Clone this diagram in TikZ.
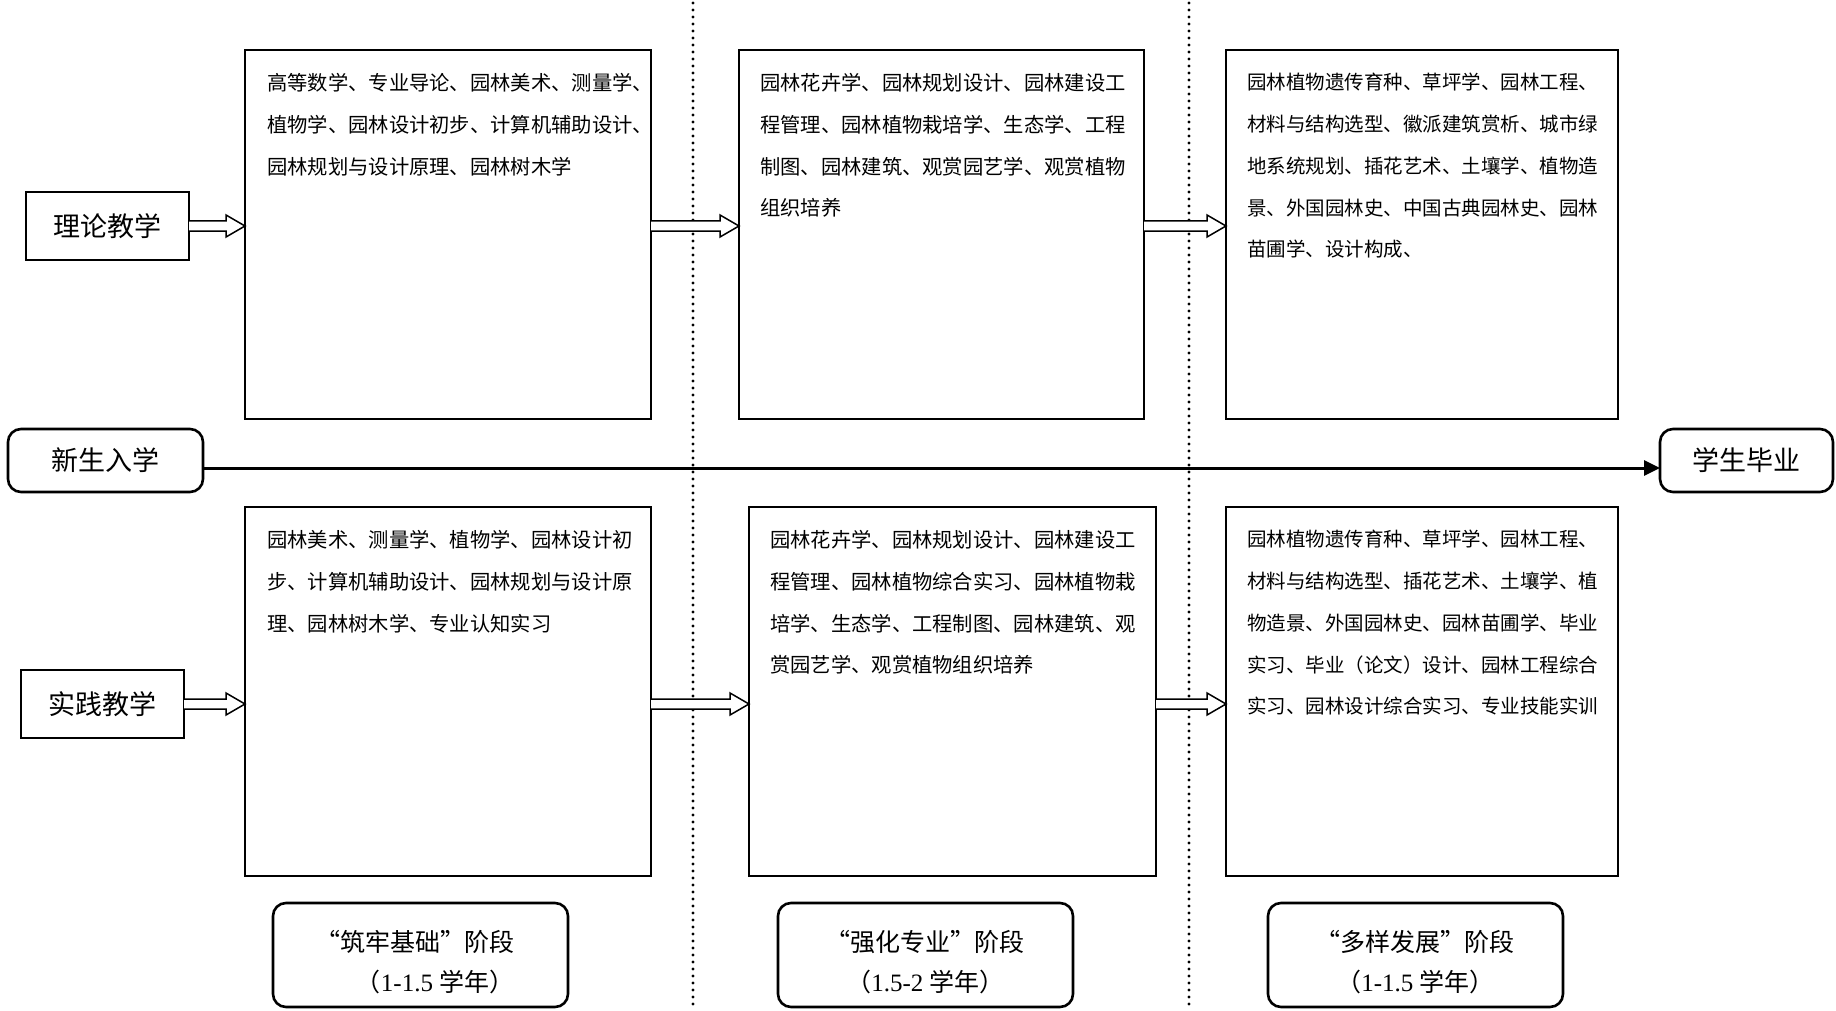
\documentclass[tikz,border=0pt]{standalone}
\usepackage{fontspec}
\setmainfont{Liberation Serif}
\newfontfamily\cjk{Noto Sans CJK SC}
\usetikzlibrary{calc,arrows.meta}
\newcommand{\hollowarrow}[2]{%
  \draw[blockarr] ($(#1)+(0,-5)$) -- ($(#2)+(-19,-5)$) -- ($(#2)+(-19,-11)$) -- (#2)
    -- ($(#2)+(-19,11)$) -- ($(#2)+(-19,5)$) -- ($(#1)+(0,5)$);}
\newcommand{\myopenq}{\makebox[0.95em][r]{“}}
\newcommand{\myclosq}{\makebox[0.95em][l]{”}}
\begin{document}
\begin{tikzpicture}[x=1pt,y=-1pt,
  sqbox/.style={draw, line width=1.5pt, inner sep=0pt, outer sep=0pt, anchor=north west},
  rbox/.style={draw, line width=2.6pt, rounded corners=13pt, inner sep=0pt, outer sep=0pt, anchor=north west},
  labtxt/.style={font=\fontsize{27}{32}\selectfont\cjk},
  bodytxt/.style={anchor=north west, inner sep=0pt, align=left, font=\fontsize{20.3}{41.8}\selectfont\cjk},
  bodytxtn/.style={anchor=north west, inner sep=0pt, align=left, font=\fontsize{19.5}{41.8}\selectfont\cjk},
  stagetxt/.style={inner sep=0pt, font=\fontsize{25}{40}\selectfont\cjk},
  blockarr/.style={draw, line width=1.5pt, line join=miter, fill=white},
  mainline/.style={draw, line width=3pt, -{Triangle[length=16pt,width=15pt]}},
  divider/.style={draw, line width=3.2pt, dash pattern=on 0pt off 7pt, line cap=round}
]
\useasboundingbox (0,0) rectangle (1836,1011);
\fill[white] (0,0) rectangle (1836,1011);

% dividers
\draw[divider] (693,3) -- (693,1011);
\draw[divider] (1189,3) -- (1189,1011);

% top row
\node[sqbox, minimum width=163pt, minimum height=68pt, labtxt] (lt) at (26,192) {理论教学};
\node[sqbox, minimum width=406pt, minimum height=369pt] (t1) at (245,50) {};
\node[sqbox, minimum width=405pt, minimum height=369pt] (t2) at (739,50) {};
\node[sqbox, minimum width=392pt, minimum height=369pt] (t3) at (1226,50) {};

\node[bodytxt] (t1txt) at ($(t1.north west)+(22,23)$) {高等数学、专业导论、园林美术、测量学、\\植物学、园林设计初步、计算机辅助设计、\\园林规划与设计原理、园林树木学};
\node[bodytxt] (t2txt) at ($(t2.north west)+(21,23)$) {园林花卉学、园林规划设计、园林建设工\\程管理、园林植物栽培学、生态学、工程\\制图、园林建筑、观赏园艺学、观赏植物\\组织培养};
\node[bodytxtn] (t3txt) at ($(t3.north west)+(21,23)$) {园林植物遗传育种、草坪学、园林工程、\\材料与结构选型、徽派建筑赏析、城市绿\\地系统规划、插花艺术、土壤学、植物造\\景、外国园林史、中国古典园林史、园林\\苗圃学、设计构成、};

% bottom row
\node[sqbox, minimum width=163pt, minimum height=68pt, labtxt] (sj) at (21,670) {实践教学};
\node[sqbox, minimum width=406pt, minimum height=369pt] (p1) at (245,507) {};
\node[sqbox, minimum width=407pt, minimum height=369pt] (p2) at (749,507) {};
\node[sqbox, minimum width=392pt, minimum height=369pt] (p3) at (1226,507) {};

\node[bodytxt] (p1txt) at ($(p1.north west)+(22,23)$) {园林美术、测量学、植物学、园林设计初\\步、计算机辅助设计、园林规划与设计原\\理、园林树木学、专业认知实习};
\node[bodytxt] (p2txt) at ($(p2.north west)+(21,23)$) {园林花卉学、园林规划设计、园林建设工\\程管理、园林植物综合实习、园林植物栽\\培学、生态学、工程制图、园林建筑、观\\赏园艺学、观赏植物组织培养};
\node[bodytxtn] (p3txt) at ($(p3.north west)+(21,23)$) {园林植物遗传育种、草坪学、园林工程、\\材料与结构选型、插花艺术、土壤学、植\\物造景、外国园林史、园林苗圃学、毕业\\实习、毕业（论文）设计、园林工程综合\\实习、园林设计综合实习、专业技能实训};

% middle timeline
\node[rbox, minimum width=195pt, minimum height=63pt, labtxt] (start) at (8,429) {新生入学};
\node[rbox, minimum width=173pt, minimum height=63pt, labtxt] (finish) at (1660,429) {学生毕业};
\draw[mainline] ([yshift=-7.5pt]start.east) -- ([yshift=-7.5pt]finish.west);

% stage boxes
\node[rbox, minimum width=295pt, minimum height=104pt] (s1) at (273,903) {};
\node[rbox, minimum width=295pt, minimum height=104pt] (s2) at (778,903) {};
\node[rbox, minimum width=295pt, minimum height=104pt] (s3) at (1268,903) {};
\node[stagetxt, align=right] (s1txt) at ($(s1.center)+(-5,7)$) {\myopenq 筑牢基础\myclosq 阶段\\（{\rmfamily 1-1.5 }学年）};
\node[stagetxt, align=center] (s2txt) at ($(s2.center)+(0,7)$) {\myopenq 强化专业\myclosq 阶段\\（{\rmfamily 1.5-2 }学年）};
\node[stagetxt, align=center] (s3txt) at ($(s3.center)+(0,7)$) {\myopenq 多样发展\myclosq 阶段\\（{\rmfamily 1-1.5 }学年）};

% hollow arrows
\coordinate (a1s) at (lt.east);
\coordinate (a1e) at (t1.west |- lt.east);
\coordinate (a2s) at (t1.east |- lt.east);
\coordinate (a2e) at (t2.west |- lt.east);
\coordinate (a3s) at (t2.east |- lt.east);
\coordinate (a3e) at (t3.west |- lt.east);
\coordinate (b1s) at (sj.east);
\coordinate (b1e) at (p1.west |- sj.east);
\coordinate (b2s) at (p1.east |- sj.east);
\coordinate (b2e) at (p2.west |- sj.east);
\coordinate (b3s) at (p2.east |- sj.east);
\coordinate (b3e) at (p3.west |- sj.east);
\hollowarrow{a1s}{a1e}
\hollowarrow{a2s}{a2e}
\hollowarrow{a3s}{a3e}
\hollowarrow{b1s}{b1e}
\hollowarrow{b2s}{b2e}
\hollowarrow{b3s}{b3e}
\end{tikzpicture}
\end{document}
